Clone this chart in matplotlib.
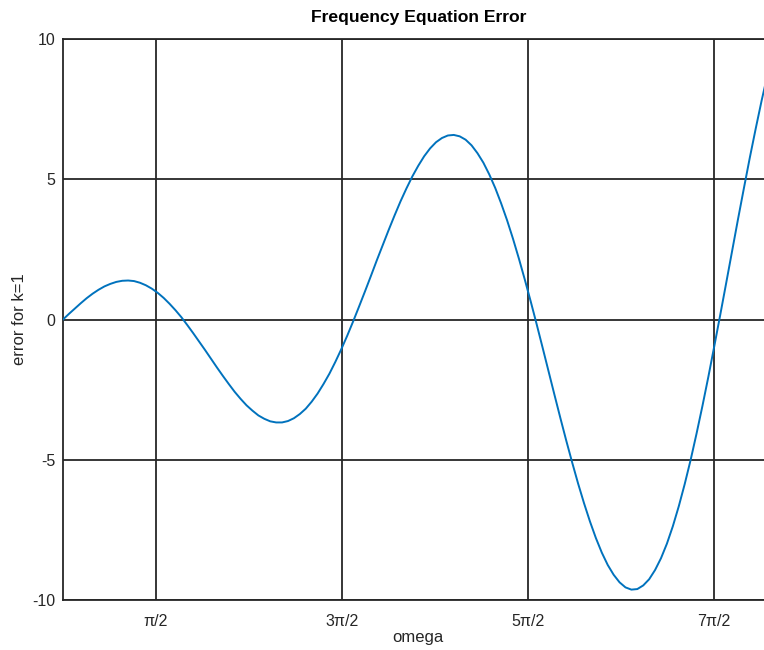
import numpy as np
import matplotlib.pyplot as plt

plt.rcParams['font.family'] = ['Liberation Sans', 'DejaVu Sans']
plt.rcParams['axes.unicode_minus'] = False

# omega from 0 to 12 in steps of 0.1, error for k=1
omega = [round(0.1 * i, 1) for i in range(121)]
error_k1 = [
    0.00, 0.20, 0.39, 0.58, 0.76, 0.92, 1.06, 1.18, 1.27, 1.34, 1.38, 1.39,
    1.37, 1.31, 1.22, 1.10, 0.95, 0.77, 0.56, 0.33, 0.08, -0.20, -0.49, -0.79,
    -1.09, -1.40, -1.71, -2.01, -2.30, -2.58, -2.83, -3.06, -3.25, -3.42, -3.54,
    -3.63, -3.67, -3.67, -3.62, -3.52, -3.37, -3.18, -2.93, -2.64, -2.30, -1.93,
    -1.51, -1.06, -0.58, -0.07, 0.46, 1.00, 1.55, 2.11, 2.65, 3.19, 3.71, 4.21,
    4.67, 5.10, 5.48, 5.82, 6.10, 6.32, 6.47, 6.56, 6.58, 6.53, 6.41, 6.21,
    5.93, 5.59, 5.17, 4.69, 4.14, 3.54, 2.88, 2.17, 1.42, 0.64, -0.17, -1.00,
    -1.84, -2.68, -3.51, -4.32, -5.10, -5.85, -6.55, -7.20, -7.79, -8.31, -8.75,
    -9.10, -9.37, -9.55, -9.63, -9.61, -9.48, -9.26, -8.93, -8.51, -7.99, -7.37,
    -6.66, -5.87, -5.01, -4.07, -3.08, -2.04, -0.95, 0.16, 1.29, 2.43, 3.57,
    4.68, 5.77, 6.81, 7.81, 8.74, 9.59]

xtick_pos = [np.pi / 2, 3 * np.pi / 2, 5 * np.pi / 2, 7 * np.pi / 2]
xtick_labels = ['π/2', '3π/2', '5π/2', '7π/2']
ytick_pos = [-10, -5, 0, 5, 10]

fig = plt.figure(figsize=(7.64, 6.5), dpi=100)
# axes runs past the right edge of the figure, like the cropped original
ax = fig.add_axes([63 / 764, 50 / 650, 710.5 / 764, 561 / 650])

ax.plot(omega, error_k1, color='#0072BD', lw=1.4, zorder=3)

ax.set_xlim(0, 12)
ax.set_ylim(-10, 10)
ax.set_xticks(xtick_pos)
ax.set_xticklabels(xtick_labels)
ax.set_yticks(ytick_pos)
ax.grid(True, color='#262626', lw=1.3, alpha=1)
ax.tick_params(length=0, labelsize=11.5, colors='#262626')
ax.tick_params(axis='y', pad=5.5)
ax.tick_params(axis='x', pad=10)
for s in ax.spines.values():
    s.set_color('#262626')
    s.set_linewidth(1.3)

ax.set_title('Frequency Equation Error', fontsize=12.6, fontweight='bold', pad=12)
ax.set_xlabel('omega', fontsize=12, color='#262626', labelpad=1)
ax.set_ylabel('error for k=1', fontsize=12, color='#262626')
ax.yaxis.set_label_coords(-0.0507, 0.5)

fig.savefig('out.png', dpi=100)
